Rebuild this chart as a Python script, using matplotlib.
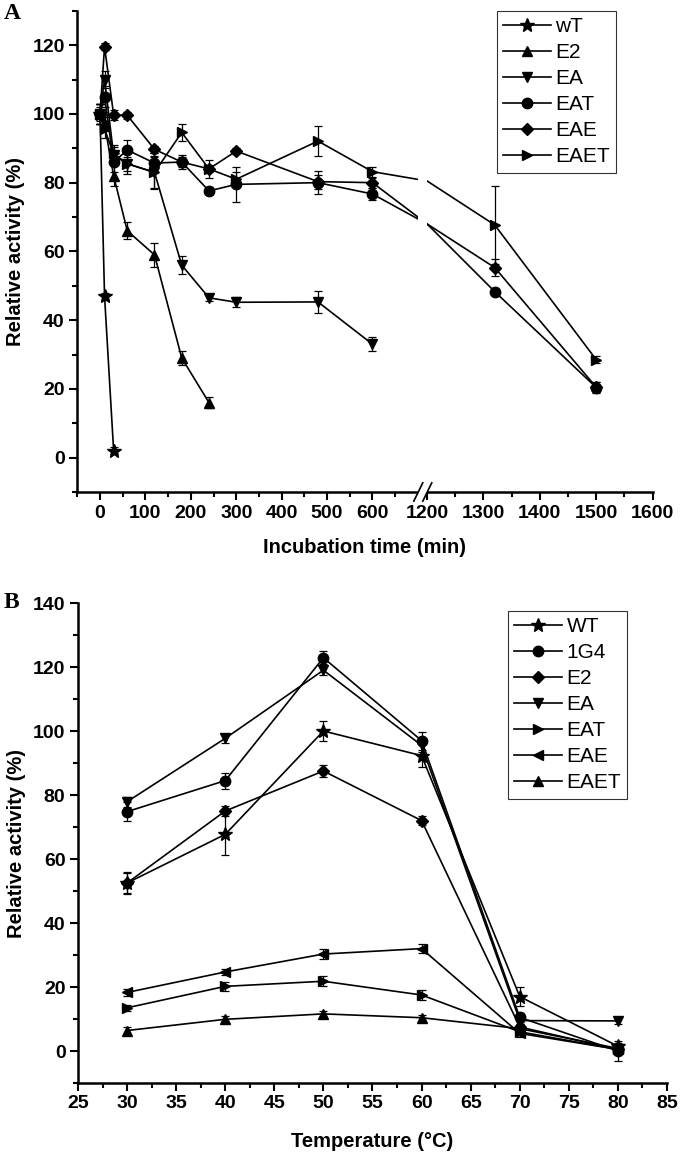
import numpy as np
import matplotlib
matplotlib.use("Agg")
import matplotlib.pyplot as plt
from matplotlib.ticker import FixedLocator, MultipleLocator
from matplotlib.patches import Rectangle
from matplotlib.lines import Line2D

plt.rcParams['font.family'] = ['Liberation Sans', 'DejaVu Sans']

# ---------------- Panel A data ----------------
a_labels = ['wT', 'E2', 'EA', 'EAT', 'EAE', 'EAET']
a_markers = ['*', '^', 'v', 'o', 'D', '>']

wt_t = [0, 10, 30]
wt_y = [100, 47, 2]
wt_e = [2, 1, 1]

e2_t = [0, 10, 30, 60, 120, 180, 240]
e2_y = [100, 97, 82, 66, 59, 29, 16]
e2_e = [3, 2, 3, 2.5, 3.5, 2, 1.5]

ea_t = [0, 10, 30, 60, 120, 180, 240, 300, 480, 600]
ea_y = [100, 110, 88, 85.5, 83, 56, 46.5, 45.2, 45.3, 33]
ea_e = [3, 2.5, 3, 3, 4.5, 2.7, 1, 1.5, 3.2, 2]

# point at 1200 min lies inside the axis break (not shown as a marker)
eat_t = [0, 10, 30, 60, 120, 180, 240, 300, 480, 600, 1200, 1320, 1500]
eat_y = [100, 105, 86, 89.5, 85.7, 86, 77.6, 79.5, 80, 76.7, 68, 48.3, 20.4]
eat_e = [3, 3, 3, 3, 3, 2, 1, 5, 3.3, 1.7, np.nan, 1, 1.5]

eae_t = [0, 10, 30, 60, 120, 180, 240, 300, 480, 600, 1200, 1320, 1500]
eae_y = [100, 119.6, 99.7, 99.6, 89.7, 86, 84, 89.2, 80.3, 80, 68, 55.3, 20.5]
eae_e = [3, 1, 1.5, 1, 1, 1.5, 1, 1, 2, 1.5, np.nan, 2.5, 1.5]

eaet_t = [0, 10, 30, 60, 120, 180, 240, 300, 480, 600, 1200, 1320, 1500]
eaet_y = [100, 95.5, 88.5, 85.5, 83, 94.6, 84, 81, 92.1, 83.2, 80.5, 67.7, 28.5]
eaet_e = [3, 2.5, 2, 2, 4.7, 2.5, 2.5, 2, 4.4, 1.5, np.nan, 11.3, 1]

a_hidden_t = 1200
a_xticks = [0, 100, 200, 300, 400, 500, 600, 1200, 1300, 1400, 1500, 1600]
a_xtick_labels = ['0', '100', '200', '300', '400', '500', '600',
                  '1200', '1300', '1400', '1500', '1600']

# ---------------- Panel B data ----------------
b_labels = ['WT', '1G4', 'E2', 'EA', 'EAT', 'EAE', 'EAET']
b_markers = ['*', 'o', 'D', 'v', '>', '<', '^']
temps = [30, 40, 50, 60, 70, 80]
b_wt = [52.5, 67.7, 100, 92.3, 17, 1.5]
b_wt_e = [3, 6.5, 3, 3.5, 3, 1]
b_1g4 = [74.8, 84.5, 122.9, 97, 10.5, 0]
b_1g4_e = [3, 2.5, 2, 2.8, 1.5, 3]
b_e2 = [52.5, 75, 87.5, 72, 7.5, 0.5]
b_e2_e = [3.5, 1.5, 2, 1.5, 1, 1]
b_ea = [77.9, 97.7, 119, 95.5, 9.5, 9.4]
b_ea_e = [1.5, 1.5, 1.5, 2, 1, 1]
b_eat = [13.5, 20.2, 21.8, 17.5, 6, 0.5]
b_eat_e = [1, 1.5, 1.5, 1.5, 1, 1]
b_eae = [18.3, 24.7, 30.3, 32, 5.5, 0.5]
b_eae_e = [1, 1, 1.5, 1.5, 1, 1]
b_eaet = [6.4, 9.9, 11.6, 10.4, 7, 0.8]
b_eaet_e = [1, 1, 1, 1, 1, 1]

msize = {'*': 10.5, '^': 7.5, 'v': 7.5, 'o': 7.5, 'D': 6.3, '>': 7.5, '<': 7.5}

# ---------------- broken x scale for panel A ----------------
BRK_LO, BRK_HI, GAP, K_R = 708.0, 1195.0, 6.0, 1.2418


def fwd(x):
    x = np.asarray(x, dtype=float)
    return np.where(x <= BRK_LO, x,
                    np.where(x >= BRK_HI, BRK_LO + GAP + (x - BRK_HI) * K_R,
                             BRK_LO + (x - BRK_LO) * GAP / (BRK_HI - BRK_LO)))


def inv(u):
    u = np.asarray(u, dtype=float)
    return np.where(u <= BRK_LO, u,
                    np.where(u >= BRK_LO + GAP, BRK_HI + (u - BRK_LO - GAP) / K_R,
                             BRK_LO + (u - BRK_LO) * (BRK_HI - BRK_LO) / GAP))


W, H = 680, 1154
fig = plt.figure(figsize=(W / 100, H / 100), dpi=100)

TICK_FS = 14
LAB_FS = 14.5
LEG_FS = 15


def style_axes(ax):
    for s in ['top', 'right']:
        ax.spines[s].set_visible(False)
    for s in ['left', 'bottom']:
        ax.spines[s].set_linewidth(1.8)
    ax.tick_params(which='major', direction='out', length=6, width=1.5, labelsize=TICK_FS, pad=3)
    ax.tick_params(which='minor', direction='out', length=3.5, width=1.5)


def bold_ticks(ax):
    for lab in ax.get_xticklabels() + ax.get_yticklabels():
        lab.set_fontweight('bold')


lw = 1.2
ekw = dict(ecolor='black', elinewidth=0.9, capsize=2.8, capthick=0.9)
leg_kw = dict(loc='upper right', borderaxespad=0, frameon=True, fancybox=False,
              prop={'weight': 'normal', 'size': LEG_FS}, handlelength=2.3,
              labelspacing=0.34, borderpad=0.3, handletextpad=0.2)

# ---------------- Panel A ----------------
axA = fig.add_axes([77.3 / W, 1 - 492 / H, 575.3 / W, 481.2 / H])
axA.set_xscale('function', functions=(fwd, inv))
axA.set_xlim(-50, 1600)
axA.set_ylim(-10, 130)
style_axes(axA)

seriesA = [(wt_t, wt_y, wt_e), (e2_t, e2_y, e2_e), (ea_t, ea_y, ea_e),
           (eat_t, eat_y, eat_e), (eae_t, eae_y, eae_e), (eaet_t, eaet_y, eaet_e)]
handlesA = []
for (t, y, e), lab, m in zip(seriesA, a_labels, a_markers):
    vis = [i for i, tt in enumerate(t) if tt != a_hidden_t]
    ln, = axA.plot(t, y, color='black', lw=lw, marker=m, ms=msize[m],
                   markevery=vis, mfc='black', mec='black', label=lab, zorder=2)
    axA.errorbar(t, y, yerr=e, fmt='none', zorder=2, **ekw)
    handlesA.append(ln)

axA.set_xticks(a_xticks)
axA.set_xticklabels(a_xtick_labels, fontweight='bold')
axA.xaxis.set_minor_locator(FixedLocator([-50, 50, 150, 250, 350, 450, 550, 650,
                                          1250, 1350, 1450, 1550]))
yA = np.arange(0, 121, 20)
axA.set_yticks(yA)
axA.set_yticklabels([str(v) for v in yA], fontweight='bold')
axA.yaxis.set_minor_locator(FixedLocator(np.arange(-10, 131, 20)))


def frac(x):
    u0, u1 = fwd(-50.0), fwd(1600.0)
    return float((fwd(x) - u0) / (u1 - u0))


gl, gr = frac(701), frac(1200.3)
axA.add_patch(Rectangle((gl, -0.006), gr - gl, 1.006, transform=axA.transAxes,
                        facecolor='white', edgecolor='none', zorder=3, clip_on=False))
c = 0.5 * (gl + gr)
dx, dy = 9 / 575.3, 9.2 / 481.2
for x0 in (c - dx, c):
    axA.add_line(Line2D([x0, x0 + dx], [-dy, dy], transform=axA.transAxes,
                        color='black', lw=1.2, clip_on=False, zorder=4))

axA.set_xlabel('Incubation time (min)', fontsize=LAB_FS, fontweight='bold', labelpad=12)
axA.set_ylabel('Relative activity (%)', fontsize=LAB_FS, fontweight='bold', labelpad=5)
legA = axA.legend(handles=handlesA, bbox_to_anchor=(0.936, 1.0), **leg_kw)
legA.get_frame().set_edgecolor('black')
legA.get_frame().set_linewidth(0.8)
legA.set_zorder(5)

# ---------------- Panel B ----------------
axB = fig.add_axes([78 / W, 1 - 1083 / H, 589 / W, 480 / H])
axB.set_xlim(25, 85)
axB.set_ylim(-10, 140)
style_axes(axB)

seriesB = [(b_wt, b_wt_e), (b_1g4, b_1g4_e), (b_e2, b_e2_e), (b_ea, b_ea_e),
           (b_eat, b_eat_e), (b_eae, b_eae_e), (b_eaet, b_eaet_e)]
handlesB = []
for (y, e), lab, m in zip(seriesB, b_labels, b_markers):
    ln, = axB.plot(temps, y, color='black', lw=lw, marker=m, ms=msize[m],
                   mfc='black', mec='black', label=lab, zorder=2)
    axB.errorbar(temps, y, yerr=e, fmt='none', zorder=2, **ekw)
    handlesB.append(ln)

xB = np.arange(25, 86, 5)
axB.set_xticks(xB)
axB.set_xticklabels([str(v) for v in xB], fontweight='bold')
axB.xaxis.set_minor_locator(MultipleLocator(2.5))
axB.set_xlim(25, 85)
yB = np.arange(0, 141, 20)
axB.set_yticks(yB)
axB.set_yticklabels([str(v) for v in yB], fontweight='bold')
axB.yaxis.set_minor_locator(FixedLocator(np.arange(-10, 141, 20)))
axB.set_ylim(-10, 140)
axB.set_xlabel('Temperature (°C)', fontsize=LAB_FS, fontweight='bold', labelpad=14)
axB.set_ylabel('Relative activity (%)', fontsize=LAB_FS, fontweight='bold', labelpad=5)
legB = axB.legend(handles=handlesB, bbox_to_anchor=(0.9326, 0.984), **leg_kw)
legB.get_frame().set_edgecolor('black')
legB.get_frame().set_linewidth(0.8)

# panel letters
fig.text(4 / W, 1 - 3 / H, 'A', family='Liberation Serif', weight='bold', fontsize=17, va='top')
fig.text(4 / W, 1 - 592 / H, 'B', family='Liberation Serif', weight='bold', fontsize=17, va='top')

fig.canvas.draw()
bold_ticks(axA)
bold_ticks(axB)
fig.savefig('out.png', dpi=100)
